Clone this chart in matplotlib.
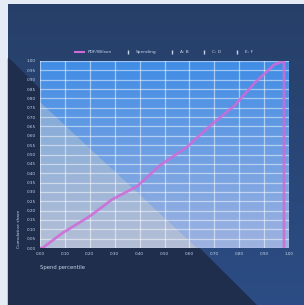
"""
Cumulative curve on a gradient panel
"""
import numpy as np
from matplotlib import pyplot as plt
import matplotlib.patches as patches
from matplotlib.lines import Line2D

# Data:
x_vals = [0.0, 0.01, 0.09, 0.2, 0.29, 0.39, 0.48, 0.59, 0.68, 0.78, 0.86, 0.94, 0.98, 0.98]
y_vals = [0.0, 0.0, 0.08, 0.17, 0.26, 0.33, 0.44, 0.54, 0.65, 0.76, 0.88, 0.98, 1.0, 0.0]
x_ticks = np.round(np.arange(0, 1.01, 0.1), 2)
y_ticks = np.round(np.arange(0, 1.001, 0.05), 2)
legend_labels = ['PDF/Wilson', 'Spending', 'A: B', 'C: D', 'E: F']

fig = plt.figure(figsize=(3.04, 3.05), dpi=100)
fig.patch.set_facecolor('#e6ecf5')

# Background panel with a soft vertical gradient, then the dark diagonal:
bg = fig.add_axes([0, 0, 1, 1], zorder=-10)
bg.set_xlim(0, 304)
bg.set_ylim(305, 0)
bg.axis('off')
pg = np.linspace(0, 1, 128).reshape(-1, 1, 1)
p_top = np.array([0.15, 0.25, 0.41])
p_bot = np.array([0.17, 0.30, 0.52])
bg.imshow(p_top + (p_bot - p_top) * pg, extent=[8, 304, 305, 4], aspect='auto', origin='upper')
bg.add_patch(patches.Polygon([(8, 58), (8, 305), (256, 305)], color='#1e2e4c'))
bg.set_xlim(0, 304)
bg.set_ylim(305, 0)

# Plot area:
ax = fig.add_axes([40/304, 57/305, 249/304, 187/305])
grad = np.linspace(0, 1, 256).reshape(-1, 1, 1)
top = np.array([0.25, 0.55, 0.90])
bottom = np.array([0.62, 0.70, 0.88])
img = top + (bottom - top) * grad
ax.imshow(img, extent=[0, 1, 0, 1], aspect='auto', origin='upper', zorder=0)
ax.add_patch(patches.Polygon([(0, 0), (0, 0.78), (0.63, 0)], closed=True,
                             color='#e8dcc0', alpha=0.3, lw=0, zorder=0.5))

ax.set_xlim(0, 1)
ax.set_ylim(0, 1)
ax.set_xticks(x_ticks)
ax.set_yticks(y_ticks)
ax.set_xticklabels([f'{v:.2f}' for v in x_ticks])
ax.set_yticklabels([f'{v:.2f}' for v in y_ticks])
ax.tick_params(colors='#c8d4e8', labelsize=3.0, length=0, pad=3)
ax.grid(True, color='white', alpha=0.5, lw=0.9)
for s in ax.spines.values():
    s.set_visible(False)

ax.plot(x_vals, y_vals, color='#d06ad8', lw=2.0, alpha=0.85, zorder=3)

ax.set_ylabel('Cumulative share', fontsize=3.2, color='#c8d4e8', loc='bottom', labelpad=4)
ax.set_xlabel('Spend percentile', fontsize=3.8, color='#c8d4e8', loc='left', labelpad=6)

handles = [Line2D([], [], color='#d06ad8', lw=1.5)]
for c in ['#c8d4e8'] * 4:
    handles.append(Line2D([], [], color=c, marker='|', lw=0, markersize=3))
fig.legend(handles, legend_labels, loc='center', bbox_to_anchor=(0.54, 1 - 52/305),
           ncol=5, frameon=False, fontsize=3.2, labelcolor='#c8d4e8',
           handlelength=2, columnspacing=2.5)

plt.savefig('out.png', dpi=100)
